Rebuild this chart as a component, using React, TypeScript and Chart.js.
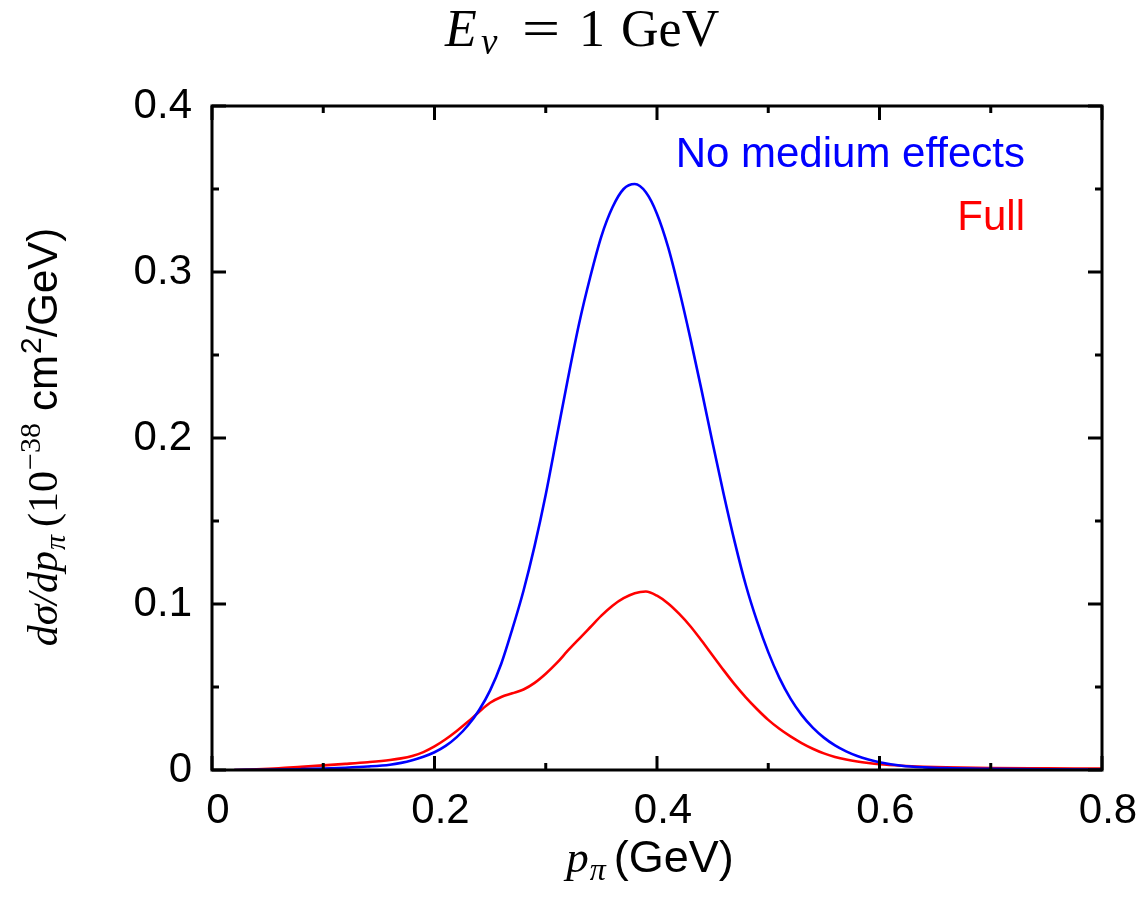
import React, { useEffect, useRef } from "react";
import { Chart, registerables } from "chart.js";

Chart.register(...registerables);

// ---- data ----
const pPi = [
  0.02, 0.04, 0.06, 0.08, 0.10, 0.12, 0.14, 0.16, 0.17, 0.18, 0.19, 0.20,
  0.21, 0.22, 0.23, 0.24, 0.25, 0.26, 0.27, 0.28, 0.29, 0.30, 0.31, 0.32,
  0.33, 0.34, 0.35, 0.36, 0.37, 0.38, 0.39, 0.40, 0.41, 0.42, 0.43, 0.44,
  0.45, 0.46, 0.47, 0.48, 0.49, 0.50, 0.51, 0.52, 0.53, 0.54, 0.55, 0.56,
  0.57, 0.58, 0.59, 0.60, 0.62, 0.64, 0.66, 0.70, 0.75, 0.80,
];
const noMedium = [
  0.0, 0.0001, 0.0002, 0.0005, 0.0009, 0.0014, 0.0021, 0.0032, 0.0043, 0.0059, 0.0080, 0.0107,
  0.0145, 0.0198, 0.0268, 0.0360, 0.0480, 0.0640, 0.0850, 0.1080, 0.1350, 0.1660, 0.2010, 0.2360,
  0.2690, 0.2970, 0.3215, 0.3390, 0.3500, 0.3530, 0.3480, 0.3350, 0.3150, 0.2890, 0.2600, 0.2290,
  0.1970, 0.1660, 0.1370, 0.1110, 0.0895, 0.0710, 0.0555, 0.0430, 0.0332, 0.0255, 0.0195, 0.0148,
  0.0112, 0.0084, 0.0063, 0.0047, 0.0026, 0.0016, 0.0011, 0.0007, 0.0004, 0.0002,
];
const full = [
  0.0, 0.0004, 0.0010, 0.0019, 0.0028, 0.0037, 0.0047, 0.0060, 0.0070, 0.0085, 0.0108, 0.0142,
  0.0185, 0.0235, 0.0290, 0.0350, 0.0405, 0.0440, 0.0462, 0.0485, 0.0525, 0.0580, 0.0645, 0.0720,
  0.0790, 0.0860, 0.0930, 0.0990, 0.1035, 0.1065, 0.1075, 0.1050, 0.1003, 0.0940, 0.0866, 0.0780,
  0.0690, 0.0600, 0.0514, 0.0436, 0.0366, 0.0302, 0.0248, 0.0202, 0.0162, 0.0128, 0.0100, 0.0079,
  0.0063, 0.0051, 0.0042, 0.0035, 0.0026, 0.0020, 0.0016, 0.0012, 0.0010, 0.0008,
];
const seriesNames = ["No medium effects", "Full"];
const seriesColors = ["#0000ff", "#ff0000"];
const xMajorTicks = [0, 0.2, 0.4, 0.6, 0.8];
const xMinorTicks = [0.1, 0.3, 0.5, 0.7];
const yMajorTicks = [0, 0.1, 0.2, 0.3, 0.4];
const yMinorTicks = [0.05, 0.15, 0.25, 0.35];

const SANS = '"Liberation Sans", Arial, Helvetica, sans-serif';
const SERIF = '"Liberation Serif", "Times New Roman", serif';
const FS = 42;

type Piece = { text: string; font: string; dy?: number; gap?: number };

function drawPieces(ctx: CanvasRenderingContext2D, pieces: Piece[], cx: number, y: number) {
  let total = 0;
  const widths = pieces.map((p) => {
    ctx.font = p.font;
    const w = ctx.measureText(p.text).width + (p.gap || 0);
    total += w;
    return w;
  });
  let x = cx - total / 2;
  ctx.textAlign = "left";
  ctx.textBaseline = "alphabetic";
  pieces.forEach((p, i) => {
    ctx.font = p.font;
    ctx.fillText(p.text, x + (p.gap || 0), y + (p.dy || 0));
    x += widths[i];
  });
}

const decorPlugin = {
  id: "decor",
  afterDraw(chart: any) {
    const ctx: CanvasRenderingContext2D = chart.ctx;
    const { left, right, top, bottom } = chart.chartArea;
    const xs = chart.scales.x;
    const ys = chart.scales.y;
    ctx.save();
    ctx.strokeStyle = "#000";
    ctx.lineWidth = 3;
    ctx.lineCap = "butt";
    const tick = (vals: number[], len: number) => {
      vals.forEach((v) => {
        const px = xs.getPixelForValue(v);
        ctx.beginPath();
        ctx.moveTo(px, bottom);
        ctx.lineTo(px, bottom - len);
        ctx.moveTo(px, top);
        ctx.lineTo(px, top + len);
        ctx.stroke();
      });
    };
    const ytick = (vals: number[], len: number) => {
      vals.forEach((v) => {
        const py = ys.getPixelForValue(v);
        ctx.beginPath();
        ctx.moveTo(left, py);
        ctx.lineTo(left + len, py);
        ctx.moveTo(right, py);
        ctx.lineTo(right - len, py);
        ctx.stroke();
      });
    };
    tick(xMajorTicks, 14);
    tick(xMinorTicks, 7);
    ytick(yMajorTicks, 14);
    ytick(yMinorTicks, 7);
    ctx.strokeRect(left, top, right - left, bottom - top);

    // legend
    ctx.font = `${FS}px ${SANS}`;
    ctx.textAlign = "right";
    ctx.textBaseline = "alphabetic";
    seriesNames.forEach((name, i) => {
      ctx.fillStyle = seriesColors[i];
      ctx.fillText(name, 1025, 167 + i * 63);
    });

    ctx.fillStyle = "#000";
    // title
    const tf = 52;
    ctx.textBaseline = "alphabetic";
    ctx.textAlign = "left";
    ctx.font = `italic ${tf}px ${SERIF}`;
    ctx.fillText("E", 445, 46);
    ctx.font = `italic 37px ${SERIF}`;
    ctx.fillText("ν", 481, 54);
    ctx.font = `${tf}px ${SERIF}`;
    ctx.save();
    ctx.translate(541, 46);
    ctx.scale(1.3, 1);
    ctx.textAlign = "center";
    ctx.fillText("=", 0, 0);
    ctx.restore();
    ctx.textAlign = "center";
    ctx.fillText("1", 592, 46);
    ctx.textAlign = "left";
    ctx.fillText("GeV", 621, 46);

    // x label
    drawPieces(
      ctx,
      [
        { text: "p", font: `italic 45px ${SERIF}` },
        { text: "π", font: `italic 32px ${SERIF}`, dy: 8, gap: 1 },
        { text: "(GeV)", font: `45px ${SANS}`, gap: 8 },
      ],
      650,
      872
    );

    // y label
    ctx.translate(57, 437);
    ctx.rotate(-Math.PI / 2);
    drawPieces(
      ctx,
      [
        { text: "dσ/dp", font: `italic 42px ${SERIF}` },
        { text: "π", font: `italic 30px ${SERIF}`, dy: 8, gap: 1 },
        { text: "(10", font: `42px ${SERIF}`, gap: 8 },
        { text: "−38", font: `30px ${SERIF}`, dy: -17, gap: 1 },
        { text: "cm", font: `42px ${SANS}`, gap: 12 },
        { text: "2", font: `30px ${SANS}`, dy: -16, gap: 1 },
        { text: "/GeV)", font: `42px ${SANS}` },
      ],
      0,
      0
    );
    ctx.restore();
  },
};

export default function App() {
  const ref = useRef<HTMLCanvasElement | null>(null);
  useEffect(() => {
    if (!ref.current) return;
    const chart = new Chart(ref.current, {
      type: "line",
      data: {
        datasets: [
          {
            label: seriesNames[0],
            data: pPi.map((x, i) => ({ x, y: noMedium[i] })),
            borderColor: seriesColors[0],
            borderWidth: 2.6,
            pointRadius: 0,
            cubicInterpolationMode: "monotone",
            fill: false,
          },
          {
            label: seriesNames[1],
            data: pPi.map((x, i) => ({ x, y: full[i] })),
            borderColor: seriesColors[1],
            borderWidth: 2.6,
            pointRadius: 0,
            cubicInterpolationMode: "monotone",
            fill: false,
          },
        ],
      },
      options: {
        responsive: false,
        animation: false,
        devicePixelRatio: 1,
        layout: { padding: { top: 106, right: 38, left: 0, bottom: 0 } },
        plugins: { legend: { display: false }, tooltip: { enabled: false }, title: { display: false } },
        scales: {
          x: {
            type: "linear",
            min: 0,
            max: 0.8,
            grid: { display: false, drawTicks: false },
            border: { display: false },
            ticks: {
              stepSize: 0.2,
              padding: 16,
              labelOffset: 6,
              color: "#000",
              font: { family: SANS, size: FS },
              maxRotation: 0,
              callback: (v: any) => String(Math.round(Number(v) * 10) / 10),
            },
            afterFit: (s: any) => {
              s.height = 129;
              s.paddingLeft = 0;
              s.paddingRight = 0;
            },
          },
          y: {
            type: "linear",
            min: 0,
            max: 0.4,
            grid: { display: false, drawTicks: false },
            border: { display: false },
            ticks: {
              stepSize: 0.1,
              padding: 20,
              color: "#000",
              font: { family: SANS, size: FS },
              callback: (v: any) => String(Math.round(Number(v) * 10) / 10),
            },
            afterFit: (s: any) => {
              s.width = 212;
              s.paddingTop = 0;
              s.paddingBottom = 0;
            },
          },
        },
      },
      plugins: [decorPlugin],
    } as any);
    return () => chart.destroy();
  }, []);
  return (
    <div style={{ position: "absolute", left: 0, top: 0, width: 1140, height: 899, background: "#fff" }}>
      <canvas ref={ref} width={1140} height={899} />
    </div>
  );
}
